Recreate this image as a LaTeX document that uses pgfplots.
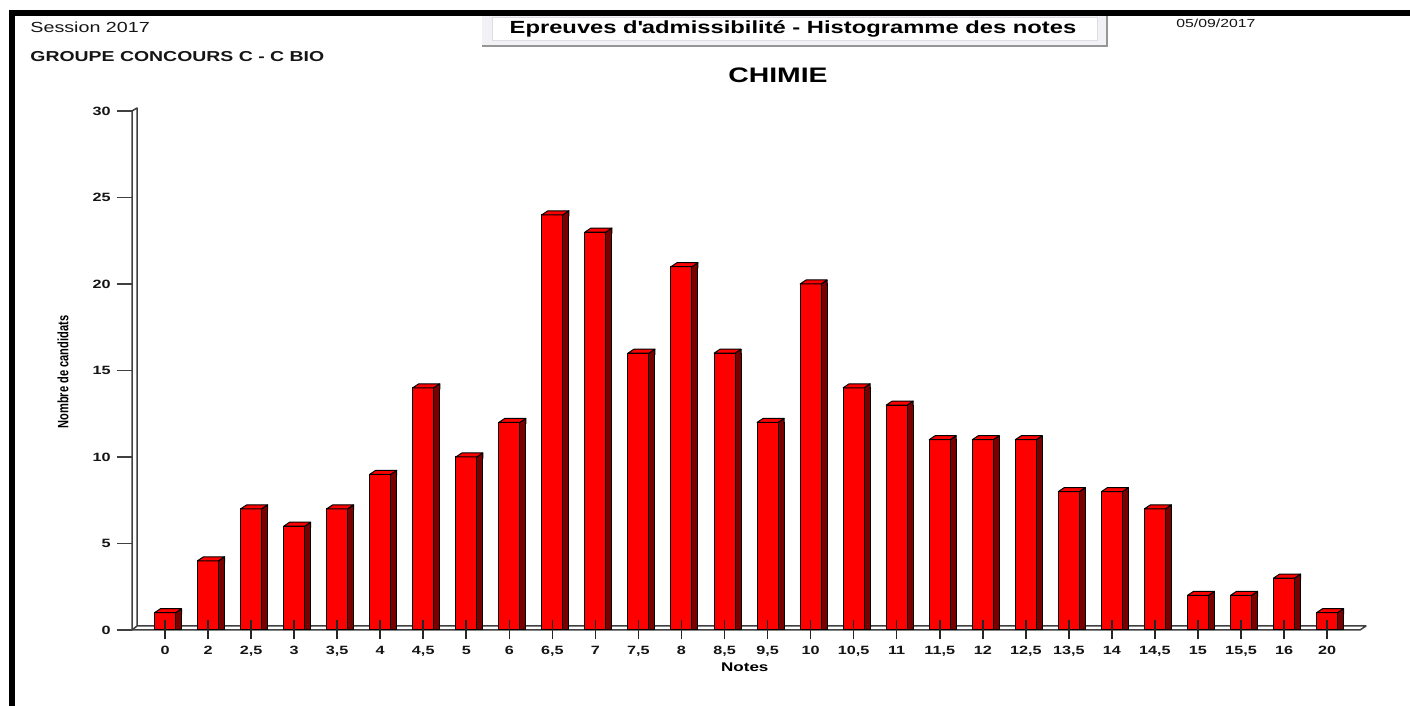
\documentclass[border=0pt]{standalone}
\usepackage{fontspec}
\setmainfont{Liberation Sans}[FakeStretch=1.35]
\newfontfamily\yfont{Liberation Sans}[FakeStretch=0.74]
\usepackage{pgfplots}
\usepackage{pgfplotstable}
\pgfplotsset{compat=1.18}
\definecolor{barred}{HTML}{FF0000}
\definecolor{bardark}{HTML}{7A0000}
\definecolor{framegray}{HTML}{404040}
\definecolor{txt}{HTML}{151515}

\pgfplotstableread{
x y
0 1
1 4
2 7
3 6
4 7
5 9
6 14
7 10
8 12
9 24
10 23
11 16
12 21
13 16
14 12
15 20
16 14
17 13
18 11
19 11
20 11
21 8
22 8
23 7
24 2
25 2
26 3
27 1
}\notes

\pgfdeclareplotmark{bartop}{%
  \pgfsetlinewidth{0.5pt}%
  \pgfsetstrokecolor{black}%
  \pgfsetroundjoin
  % upper part of the side face
  \pgfsetfillcolor{bardark}%
  \pgfpathmoveto{\pgfpoint{5.4pt}{0pt}}%
  \pgfpathlineto{\pgfpoint{8.25pt}{2pt}}%
  \pgfpathlineto{\pgfpoint{8.25pt}{-0.6pt}}%
  \pgfpathlineto{\pgfpoint{5.4pt}{-0.6pt}}%
  \pgfpathclose
  \pgfusepath{fill}%
  \pgfpathmoveto{\pgfpoint{5.25pt}{0pt}}%
  \pgfpathlineto{\pgfpoint{8.25pt}{2pt}}%
  \pgfpathlineto{\pgfpoint{8.25pt}{-0.8pt}}%
  \pgfusepath{stroke}%
  % top face
  \pgfsetfillcolor{barred}%
  \pgfpathmoveto{\pgfpoint{-5.25pt}{0pt}}%
  \pgfpathlineto{\pgfpoint{5.25pt}{0pt}}%
  \pgfpathlineto{\pgfpoint{8.25pt}{2pt}}%
  \pgfpathlineto{\pgfpoint{-2.25pt}{2pt}}%
  \pgfpathclose
  \pgfusepath{fill,stroke}%
}

\begin{document}
\begin{tikzpicture}[x=0.5pt,y=0.5pt]
\path[use as bounding box] (0,0) rectangle (1410,706);

% title box
\fill[fill={rgb,255:red,242;green,242;blue,246}] (482,659) rectangle (1107,691);
\draw[line width=1pt, draw={rgb,255:red,150;green,150;blue,150}] (482,659.5) -- (1106.5,659.5) -- (1106.5,691);
\draw[line width=0.4pt, fill=white, draw={rgb,255:red,222;green,222;blue,226}] (492,666) rectangle (1097,689);

% texts
\node[anchor=base west, inner sep=0pt, text=txt, font=\fontsize{7.3}{8.5}\selectfont] at (30,673) {Session 2017};
\node[anchor=base west, inner sep=0pt, text=txt, font=\bfseries\fontsize{7.2}{8.5}\selectfont] at (30,644) {GROUPE CONCOURS C - C BIO};
\node[anchor=base west, inner sep=0pt, text=txt, font=\fontsize{5.85}{7}\selectfont] at (1176,678) {05/09/2017};
\node[anchor=base, inner sep=0pt, text=black, font=\bfseries\fontsize{8.8}{10}\selectfont] at (793,672) {Epreuves d\textquotesingle admissibilité - Histogramme des notes};
\node[anchor=base, inner sep=0pt, text=black, font=\bfseries\fontsize{10.5}{12}\selectfont] at (778,623) {CHIMIE};

% 3D wall and floor of the chart
\fill[white] (132,76) -- (132,595) -- (137,598) -- (137,80) -- (1366,80) -- (1360,76) -- cycle;
\draw[framegray, line width=0.75pt, line join=round]
  (132,76) -- (132,595) -- (137,598) -- (137,80) -- (1366,80) -- (1360,76) -- cycle;
\draw[framegray, line width=0.75pt] (132,76) -- (137,80);

\begin{axis}[
  at={(66pt,38pt)}, anchor=south west,
  scale only axis, width=616.5pt, height=259.5pt,
  xmin=-0.767, xmax=27.881, ymin=0, ymax=30,
  clip=false, axis on top,
  axis line style={draw=none},
  tick align=outside, major tick length=7.5pt,
  tick style={draw=framegray, line width=0.8pt},
  xtick pos=bottom, ytick pos=left,
  xtick={0,...,27},
  xticklabels={0,2,{2,5},3,{3,5},4,{4,5},5,6,{6,5},7,{7,5},8,{8,5},{9,5},10,{10,5},11,{11,5},12,{12,5},{13,5},14,{14,5},15,{15,5},16,20},
  ytick={0,5,...,30},
  xtick style={yshift=4.75pt, draw=black!85, /pgfplots/major tick length=9.5pt},
  /pgf/number format/assume math mode=true,
  xticklabel style={font=\bfseries\fontsize{6}{7}\selectfont, text=txt, anchor=north, inner sep=0pt, yshift=-0.5pt},
  yticklabel style={font=\bfseries\fontsize{6}{7}\selectfont, text=txt, anchor=east, inner sep=0pt, xshift=-3pt},
  xlabel={Notes},
  ylabel={Nombre de candidats},
  every axis x label/.style={at={(axis description cs:0.497,-0.071)}, anchor=center, font=\bfseries\fontsize{6.3}{7}\selectfont, text=black},
  every axis y label/.style={at={(axis description cs:-0.056,0.497)}, rotate=90, anchor=center, font=\yfont\bfseries\fontsize{7.5}{8}\selectfont, text=black},
]
\addplot[ybar, bar width=10.5pt, bar shift=0pt, fill=barred, draw=black, line width=0.5pt] table[x=x,y=y] {\notes};
\addplot[ybar, bar width=3pt, bar shift=6.75pt, fill=bardark, draw=black, line width=0.5pt] table[x=x,y=y] {\notes};
\addplot[only marks, mark=bartop] table[x=x,y=y] {\notes};
\end{axis}

% black frame
\fill[black] (9,690) rectangle (1410,696);
\fill[black] (9,0) rectangle (15,696);
\end{tikzpicture}
\end{document}
